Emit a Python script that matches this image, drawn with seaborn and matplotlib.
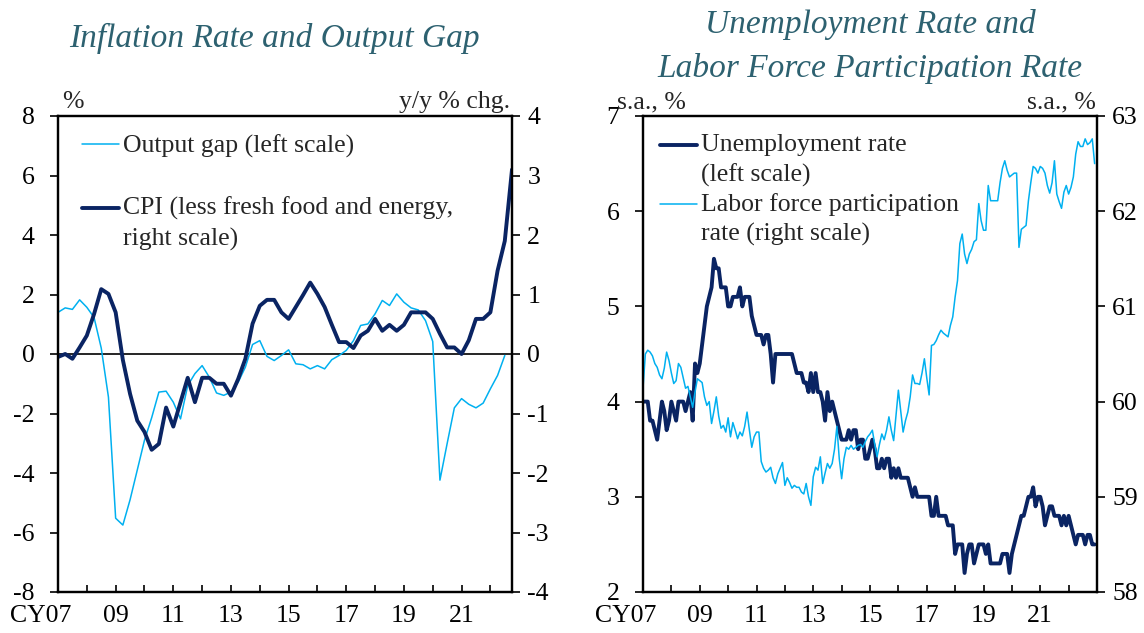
import numpy as np
import pandas as pd
import matplotlib
matplotlib.use("Agg")
import matplotlib.pyplot as plt
import seaborn as sns
from matplotlib.legend_handler import HandlerLine2D
from matplotlib.transforms import ScaledTranslation

# ---------------- data ----------------
quarters = pd.period_range("2007Q1", "2022Q4", freq="Q")
output_gap = [1.40, 1.55, 1.50, 1.82, 1.57, 1.23, 0.20, -1.45, -5.52, -5.75,
              -4.90, -3.90, -2.90, -2.14, -1.28, -1.25, -1.62, -2.18, -1.06, -0.66,
              -0.39, -0.78, -1.31, -1.39, -1.28, -0.95, -0.44, 0.32, 0.45, -0.08,
              -0.22, -0.05, 0.14, -0.33, -0.36, -0.50, -0.39, -0.50, -0.19, -0.05,
              0.12, 0.45, 0.96, 1.01, 1.35, 1.80, 1.63, 2.02, 1.74, 1.55,
              1.48, 1.12, 0.42, -4.24, -3.01, -1.81, -1.50, -1.69, -1.81, -1.65,
              -1.17, -0.72, -0.05]
cpi_core = [-0.05, 0.00, -0.08, 0.11, 0.31, 0.67, 1.09, 1.01, 0.70, -0.10,
            -0.67, -1.12, -1.31, -1.61, -1.51, -0.90, -1.22, -0.81, -0.40, -0.81,
            -0.40, -0.40, -0.50, -0.50, -0.70, -0.42, -0.08, 0.51, 0.81, 0.91,
            0.91, 0.70, 0.59, 0.79, 0.99, 1.20, 1.01, 0.79, 0.49, 0.20,
            0.20, 0.10, 0.31, 0.39, 0.59, 0.39, 0.49, 0.39, 0.49, 0.70,
            0.70, 0.70, 0.59, 0.34, 0.11, 0.11, 0.00, 0.23, 0.59, 0.59,
            0.70, 1.40, 1.90, 3.10]

months = pd.period_range("2007-01", "2022-12", freq="M")
unemployment = [
    4.0, 4.0, 4.0, 3.8, 3.8, 3.7, 3.6, 3.8, 4.0, 3.9, 3.7, 3.8,
    4.0, 3.9, 3.8, 4.0, 4.0, 4.0, 3.9, 4.0, 4.1, 3.8, 4.4, 4.3,
    4.4, 4.6, 4.8, 5.0, 5.1, 5.2, 5.5, 5.4, 5.4, 5.2, 5.2, 5.2,
    5.0, 5.0, 5.1, 5.1, 5.1, 5.2, 5.0, 5.1, 5.1, 5.1, 4.9, 4.8,
    4.7, 4.7, 4.7, 4.6, 4.7, 4.7, 4.5, 4.2, 4.5, 4.5, 4.5, 4.5,
    4.5, 4.5, 4.5, 4.5, 4.4, 4.3, 4.3, 4.3, 4.2, 4.2, 4.1, 4.3,
    4.1, 4.3, 4.1, 4.1, 4.0, 3.8, 4.1, 3.9, 4.0, 3.9, 3.8, 3.7,
    3.6, 3.6, 3.6, 3.7, 3.6, 3.7, 3.7, 3.5, 3.6, 3.6, 3.4, 3.4,
    3.5, 3.6, 3.5, 3.3, 3.3, 3.4, 3.3, 3.4, 3.4, 3.2, 3.3, 3.2,
    3.3, 3.2, 3.2, 3.2, 3.2, 3.1, 3.0, 3.1, 3.0, 3.0, 3.0, 3.0,
    3.0, 3.0, 2.8, 2.8, 3.0, 2.8, 2.8, 2.8, 2.8, 2.7, 2.7, 2.7,
    2.4, 2.5, 2.5, 2.5, 2.2, 2.4, 2.5, 2.5, 2.3, 2.4, 2.5, 2.5,
    2.5, 2.4, 2.5, 2.3, 2.3, 2.3, 2.3, 2.3, 2.4, 2.4, 2.4, 2.2,
    2.4, 2.5, 2.6, 2.7, 2.8, 2.8, 2.9, 3.0, 3.0, 3.1, 2.9, 3.0,
    3.0, 2.9, 2.7, 2.8, 2.9, 2.9, 2.8, 2.8, 2.8, 2.7, 2.8, 2.7,
    2.8, 2.7, 2.6, 2.5, 2.6, 2.6, 2.6, 2.5, 2.6, 2.6, 2.5, 2.5]
participation = [
    60.14, 60.50, 60.54, 60.52, 60.48, 60.40, 60.36, 60.28, 60.24, 60.35, 60.52, 60.43,
    60.30, 60.19, 60.22, 60.40, 60.36, 60.25, 60.14, 60.16, 60.05, 59.94, 60.10, 60.24,
    60.22, 60.20, 60.05, 59.96, 60.00, 59.77, 59.90, 60.05, 59.85, 59.72, 59.75, 59.68,
    59.83, 59.63, 59.78, 59.70, 59.61, 59.68, 59.64, 59.74, 59.89, 59.70, 59.52, 59.63,
    59.68, 59.68, 59.37, 59.30, 59.26, 59.28, 59.31, 59.20, 59.14, 59.24, 59.30, 59.36,
    59.12, 59.20, 59.15, 59.09, 59.12, 59.10, 59.10, 59.05, 59.03, 59.14, 59.00, 58.91,
    59.21, 59.31, 59.28, 59.42, 59.14, 59.25, 59.35, 59.30, 59.35, 59.50, 59.74, 59.40,
    59.19, 59.40, 59.52, 59.50, 59.54, 59.50, 59.52, 59.54, 59.55, 59.52, 59.58, 59.63,
    59.66, 59.70, 59.55, 59.42, 59.55, 59.66, 59.60, 59.70, 59.84, 59.70, 59.59, 59.85,
    60.12, 59.90, 59.68, 59.80, 59.89, 60.05, 60.28, 60.19, 60.19, 60.18, 60.30, 60.45,
    60.25, 60.07, 60.59, 60.60, 60.64, 60.70, 60.75, 60.72, 60.70, 60.68, 60.80, 60.89,
    61.10, 61.27, 61.66, 61.76, 61.55, 61.45, 61.55, 61.60, 61.68, 61.70, 62.08, 61.90,
    61.80, 61.80, 62.27, 62.11, 62.11, 62.11, 62.11, 62.30, 62.45, 62.53, 62.43, 62.36,
    62.38, 62.40, 62.40, 61.62, 61.81, 61.83, 61.85, 62.11, 62.30, 62.47, 62.45, 62.40,
    62.47, 62.45, 62.40, 62.27, 62.19, 62.30, 62.53, 62.18, 62.10, 62.03, 62.20, 62.27,
    62.18, 62.25, 62.36, 62.60, 62.73, 62.68, 62.68, 62.76, 62.70, 62.72, 62.76, 62.50]

year_ticks = list(range(2007, 2023))
year_labels = ["CY07", "", "09", "", "11", "", "13", "", "15", "", "17", "", "19", "", "21", ""]

title_left = "Inflation Rate and Output Gap"
title_right_1 = "Unemployment Rate and"
title_right_2 = "Labor Force Participation Rate"

df_q = pd.DataFrame({
    "t": [p.year + (p.quarter - 1) / 4 for p in quarters],
    "gap": output_gap + [np.nan] * (len(quarters) - len(output_gap)),
    "cpi": cpi_core,
})
df_m = pd.DataFrame({
    "t": [p.year + (p.month - 1) / 12 for p in months],
    "unemp": unemployment,
    "lfpr": participation,
})

# ---------------- style ----------------
sns.set_theme(style="white")
plt.rcParams["font.family"] = ["Liberation Serif", "DejaVu Serif"]
plt.rcParams["axes.unicode_minus"] = False

LIGHT = "#00b0f0"
DARK = "#0a2463"
TITLE_C = "#2d6170"
FS = 18.5

fig = plt.figure(figsize=(11.44, 6.33), dpi=100)
W, H = 1144, 633


def add_ax(x0, x1, ytop, ybot):
    return fig.add_axes([x0 / W, (H - ybot) / H, (x1 - x0) / W, (ybot - ytop) / H])


class RaisedLine(HandlerLine2D):
    def __init__(self, raise_pt=0.0, **kw):
        super().__init__(**kw)
        self.raise_pt = raise_pt

    def create_artists(self, legend, orig_handle, xdescent, ydescent, width,
                       height, fontsize, trans):
        arts = super().create_artists(legend, orig_handle, xdescent, ydescent,
                                      width, height, fontsize, trans)
        for a in arts:
            a.set_ydata(np.asarray(a.get_ydata(), dtype=float) + self.raise_pt)
        return arts


def style_axes(ax, ax2, xlim):
    ax.set_xlim(*xlim)
    ax.set_xticks(year_ticks)
    ax.set_xticklabels(year_labels)
    ax.tick_params(axis="x", direction="in", length=5, width=1.2, pad=9,
                   labelsize=FS, colors="black", bottom=True)
    ax.tick_params(axis="y", direction="out", length=6, width=1.2, pad=11,
                   labelsize=FS, colors="black", left=True)
    ax2.tick_params(axis="y", direction="out", length=6, width=1.2, pad=5,
                    labelsize=FS, colors="black", right=True)
    for a in (ax, ax2):
        for s in a.spines.values():
            s.set_color("black")
            s.set_linewidth(1.6)
            s.set_visible(True)
        a.set_xlabel("")
        a.set_ylabel("")
        a.grid(False)
    lab = ax.get_xticklabels()[0]
    lab.set_transform(lab.get_transform() + ScaledTranslation(-0.17, 0, fig.dpi_scale_trans))


# ---------------- left chart ----------------
ax1 = add_ax(58, 512, 116, 592)
ax1.axhline(0, color="black", lw=1.2, zorder=1)
sns.lineplot(data=df_q, x="t", y="gap", ax=ax1, color=LIGHT, lw=1.1,
             label="Output gap (left scale)")
ax1.set_ylim(-8, 8)
ax1.set_yticks(range(-8, 9, 2))
ax1b = ax1.twinx()
sns.lineplot(data=df_q, x="t", y="cpi", ax=ax1b, color=DARK, lw=2.8,
             label="CPI (less fresh food and energy,\nright scale)")
ax1b.set_ylim(-4, 4)
ax1b.set_yticks(range(-4, 5, 1))
style_axes(ax1, ax1b, (2007, 2022.75))

h1, l1 = ax1.get_legend_handles_labels()
h2, l2 = ax1b.get_legend_handles_labels()
for a in (ax1, ax1b):
    if a.get_legend() is not None:
        a.get_legend().remove()
leg1 = ax1b.legend(h1 + h2, l1 + l2, loc="upper left", bbox_to_anchor=(0.053, 0.96),
                   frameon=False, fontsize=FS, handlelength=1.45, handletextpad=0.15,
                   borderpad=0, borderaxespad=0, labelspacing=1.5,
                   handler_map={h1[0]: RaisedLine(0), h2[0]: RaisedLine(10.8)})
for t in leg1.get_texts():
    t.set_linespacing(1.4)

ax1.text(0.008, 1.016, "%", transform=ax1.transAxes, fontsize=FS, va="baseline", ha="left")
ax1.text(0.995, 1.016, "y/y % chg.", transform=ax1.transAxes, fontsize=FS, va="baseline", ha="right")

# ---------------- right chart ----------------
ax2 = add_ax(643, 1097, 116, 592)
sns.lineplot(data=df_m, x="t", y="unemp", ax=ax2, color=DARK, lw=2.8,
             label="Unemployment rate\n(left scale)")
ax2.set_ylim(2, 7)
ax2.set_yticks(range(2, 8))
ax2b = ax2.twinx()
sns.lineplot(data=df_m, x="t", y="lfpr", ax=ax2b, color=LIGHT, lw=1.1,
             label="Labor force participation\nrate (right scale)")
ax2b.set_ylim(58, 63)
ax2b.set_yticks(range(58, 64))
style_axes(ax2, ax2b, (2007, 2023.0))

g1, m1 = ax2.get_legend_handles_labels()
g2, m2 = ax2b.get_legend_handles_labels()
for a in (ax2, ax2b):
    if a.get_legend() is not None:
        a.get_legend().remove()
leg2 = ax2b.legend(g1 + g2, m1 + m2, loc="upper left", bbox_to_anchor=(0.037, 0.962),
                   frameon=False, fontsize=FS, handlelength=1.45, handletextpad=0.15,
                   borderpad=0, borderaxespad=0, labelspacing=0.25,
                   handler_map={g1[0]: RaisedLine(10.8), g2[0]: RaisedLine(10.8)})
for t in leg2.get_texts():
    t.set_linespacing(1.4)

ax2.text(-0.058, 1.016, "s.a., %", transform=ax2.transAxes, fontsize=FS, va="baseline", ha="left")
ax2.text(0.998, 1.016, "s.a., %", transform=ax2.transAxes, fontsize=FS, va="baseline", ha="right")

# ---------------- titles ----------------
fig.text(274 / W, 1 - 47 / H, title_left, fontsize=24, style="italic", color=TITLE_C,
         ha="center", va="baseline")
fig.text(870 / W, 1 - 33 / H, title_right_1, fontsize=24, style="italic", color=TITLE_C,
         ha="center", va="baseline")
fig.text(870 / W, 1 - 77 / H, title_right_2, fontsize=24, style="italic", color=TITLE_C,
         ha="center", va="baseline")

fig.savefig("out.png", dpi=100)
